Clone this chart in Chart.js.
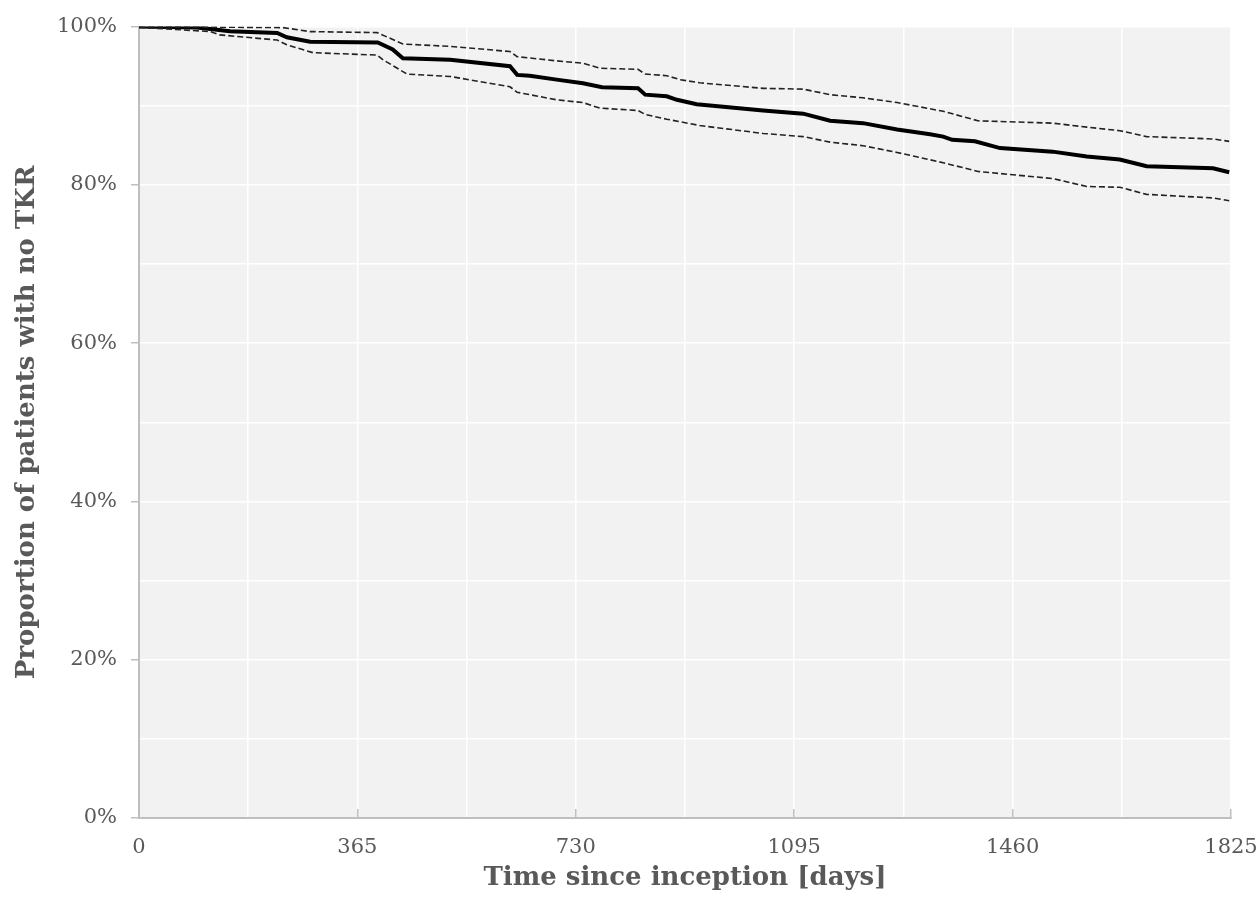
<!DOCTYPE html>
<html>
<head>
    <meta charset="UTF-8">
    <title>Time to TKR</title>
    <script src="https://cdn.jsdelivr.net/npm/chart.js@4.4.1/dist/chart.umd.min.js"></script>
    <style>
        body { margin: 0; background: #fff; }
        #wrap { width: 1260px; height: 919px; }
    </style>
</head>
<body>
<div id="wrap"><canvas id="kmChart"></canvas></div>

<script>
    // Kaplan-Meier estimate (days, % with no TKR).
    var mainDays = [0, 97, 152, 231, 247, 286, 399, 424, 441, 520, 620, 632, 653, 698, 742, 774, 834, 846, 882, 899, 932, 1043, 1110, 1155, 1210, 1267, 1322, 1344, 1359, 1397, 1439, 1527, 1584, 1639, 1684, 1795, 1822];
    var mainSurv = [100, 99.9, 99.4, 99.2, 98.65, 98.1, 98.0, 97.1, 96.0, 95.8, 95.0, 93.9, 93.8, 93.3, 92.85, 92.35, 92.2, 91.4, 91.2, 90.75, 90.2, 89.4, 89.0, 88.1, 87.8, 87.0, 86.4, 86.1, 85.7, 85.5, 84.65, 84.2, 83.6, 83.2, 82.35, 82.1, 81.6];

    // upper confidence limit
    var upperDays = [0, 241, 286, 398, 441, 520, 620, 632, 698, 742, 770, 834, 846, 882, 904, 937, 1043, 1110, 1155, 1210, 1267, 1344, 1402, 1527, 1584, 1639, 1684, 1795, 1822];
    var upperSurv = [100, 99.87, 99.37, 99.24, 97.8, 97.5, 96.85, 96.2, 95.67, 95.37, 94.74, 94.6, 94.0, 93.8, 93.3, 92.9, 92.2, 92.1, 91.4, 91.0, 90.4, 89.3, 88.1, 87.8, 87.3, 86.85, 86.1, 85.8, 85.5];

    // lower confidence limit
    var lowerDays = [0, 57, 119, 135, 231, 247, 291, 398, 408, 448, 520, 620, 632, 698, 742, 770, 834, 846, 882, 937, 1043, 1110, 1155, 1210, 1267, 1344, 1402, 1527, 1584, 1639, 1684, 1795, 1822];
    var lowerSurv = [99.9, 99.66, 99.37, 98.95, 98.3, 97.7, 96.7, 96.4, 95.8, 94.0, 93.7, 92.4, 91.7, 90.75, 90.4, 89.7, 89.4, 88.9, 88.3, 87.5, 86.5, 86.1, 85.4, 84.95, 84.1, 82.8, 81.7, 80.8, 79.8, 79.7, 78.8, 78.35, 78.0];

    var xLabelDays = [0, 365, 730, 1095, 1460, 1825];
    var yLabelPct = [0, 20, 40, 60, 80, 100];

    function toPoints(days, vals) {
        return days.map(function(d, i) { return { x: d, y: vals[i] }; });
    }

    // grey plot background
    var plotBg = {
        id: 'plotBg',
        beforeDraw: function(chart) {
            var a = chart.chartArea, ctx = chart.ctx;
            ctx.save();
            ctx.fillStyle = '#f2f2f2';
            ctx.fillRect(a.left, a.top, a.right - a.left, a.bottom - a.top);
            ctx.restore();
        }
    };

    var tickFont = { family: 'DejaVu Serif', size: 21 };
    var titleFont = { family: 'DejaVu Serif', size: 26, weight: 'bold' };

    var ctx = document.getElementById('kmChart').getContext('2d');
    var kmChart = new Chart(ctx, {
        type: 'line',
        data: {
            datasets: [{
                label: 'Upper',
                data: toPoints(upperDays, upperSurv),
                borderColor: '#222',
                borderWidth: 1.6,
                borderDash: [6, 3],
                pointRadius: 0,
                fill: false
            }, {
                label: 'Lower',
                data: toPoints(lowerDays, lowerSurv),
                borderColor: '#222',
                borderWidth: 1.6,
                borderDash: [6, 3],
                pointRadius: 0,
                fill: false
            }, {
                label: 'No TKR',
                data: toPoints(mainDays, mainSurv),
                borderColor: '#000',
                borderWidth: 4,
                pointRadius: 0,
                fill: false
            }]
        },
        options: {
            responsive: true,
            maintainAspectRatio: false,
            animation: false,
            layout: { padding: { left: 0, top: 25, right: 0, bottom: 0 } },
            plugins: {
                legend: { display: false },
                tooltip: { enabled: false }
            },
            scales: {
                x: {
                    type: 'linear',
                    min: 0,
                    max: 1825,
                    afterBuildTicks: function(scale) {
                        var t = [];
                        for (var v = 0; v <= 1825; v += 182.5) t.push({ value: v });
                        scale.ticks = t;
                    },
                    afterFit: function(scale) {
                        scale.height = 101;
                        scale.paddingLeft = 0;
                        scale.paddingRight = 29;
                    },
                    ticks: {
                        autoSkip: false,
                        maxRotation: 0,
                        padding: 26,
                        color: '#595959',
                        font: tickFont,
                        callback: function(v) {
                            return xLabelDays.indexOf(v) >= 0 ? String(v) : '';
                        }
                    },
                    grid: {
                        color: '#ffffff',
                        lineWidth: 1.5,
                        tickLength: -9,
                        tickWidth: 1.5,
                        tickColor: function(c) {
                            return c.tick && xLabelDays.indexOf(c.tick.value) >= 0 ? '#bfbfbf' : 'rgba(0,0,0,0)';
                        }
                    },
                    border: { color: '#bfbfbf', width: 2 },
                    title: {
                        display: true,
                        text: 'Time since inception [days]',
                        color: '#595959',
                        font: titleFont,
                        padding: { top: 0, bottom: 25 }
                    }
                },
                y: {
                    min: 0,
                    max: 100,
                    afterBuildTicks: function(scale) {
                        var t = [];
                        for (var v = 0; v <= 100; v += 10) t.push({ value: v });
                        scale.ticks = t;
                    },
                    afterFit: function(scale) { scale.width = 139; },
                    ticks: {
                        autoSkip: false,
                        padding: 14,
                        color: '#595959',
                        font: tickFont,
                        callback: function(v) {
                            return yLabelPct.indexOf(v) >= 0 ? v + '%' : '';
                        }
                    },
                    grid: {
                        color: '#ffffff',
                        lineWidth: 1.5,
                        tickLength: 8,
                        tickWidth: 1.5,
                        tickColor: function(c) {
                            return c.tick && yLabelPct.indexOf(c.tick.value) >= 0 ? '#bfbfbf' : 'rgba(0,0,0,0)';
                        }
                    },
                    border: { color: '#bfbfbf', width: 2 },
                    title: {
                        display: true,
                        text: 'Proportion of patients with no TKR',
                        color: '#595959',
                        font: titleFont,
                        padding: { top: 12, bottom: 0 }
                    }
                }
            }
        },
        plugins: [plotBg]
    });
</script>
</body>
</html>
